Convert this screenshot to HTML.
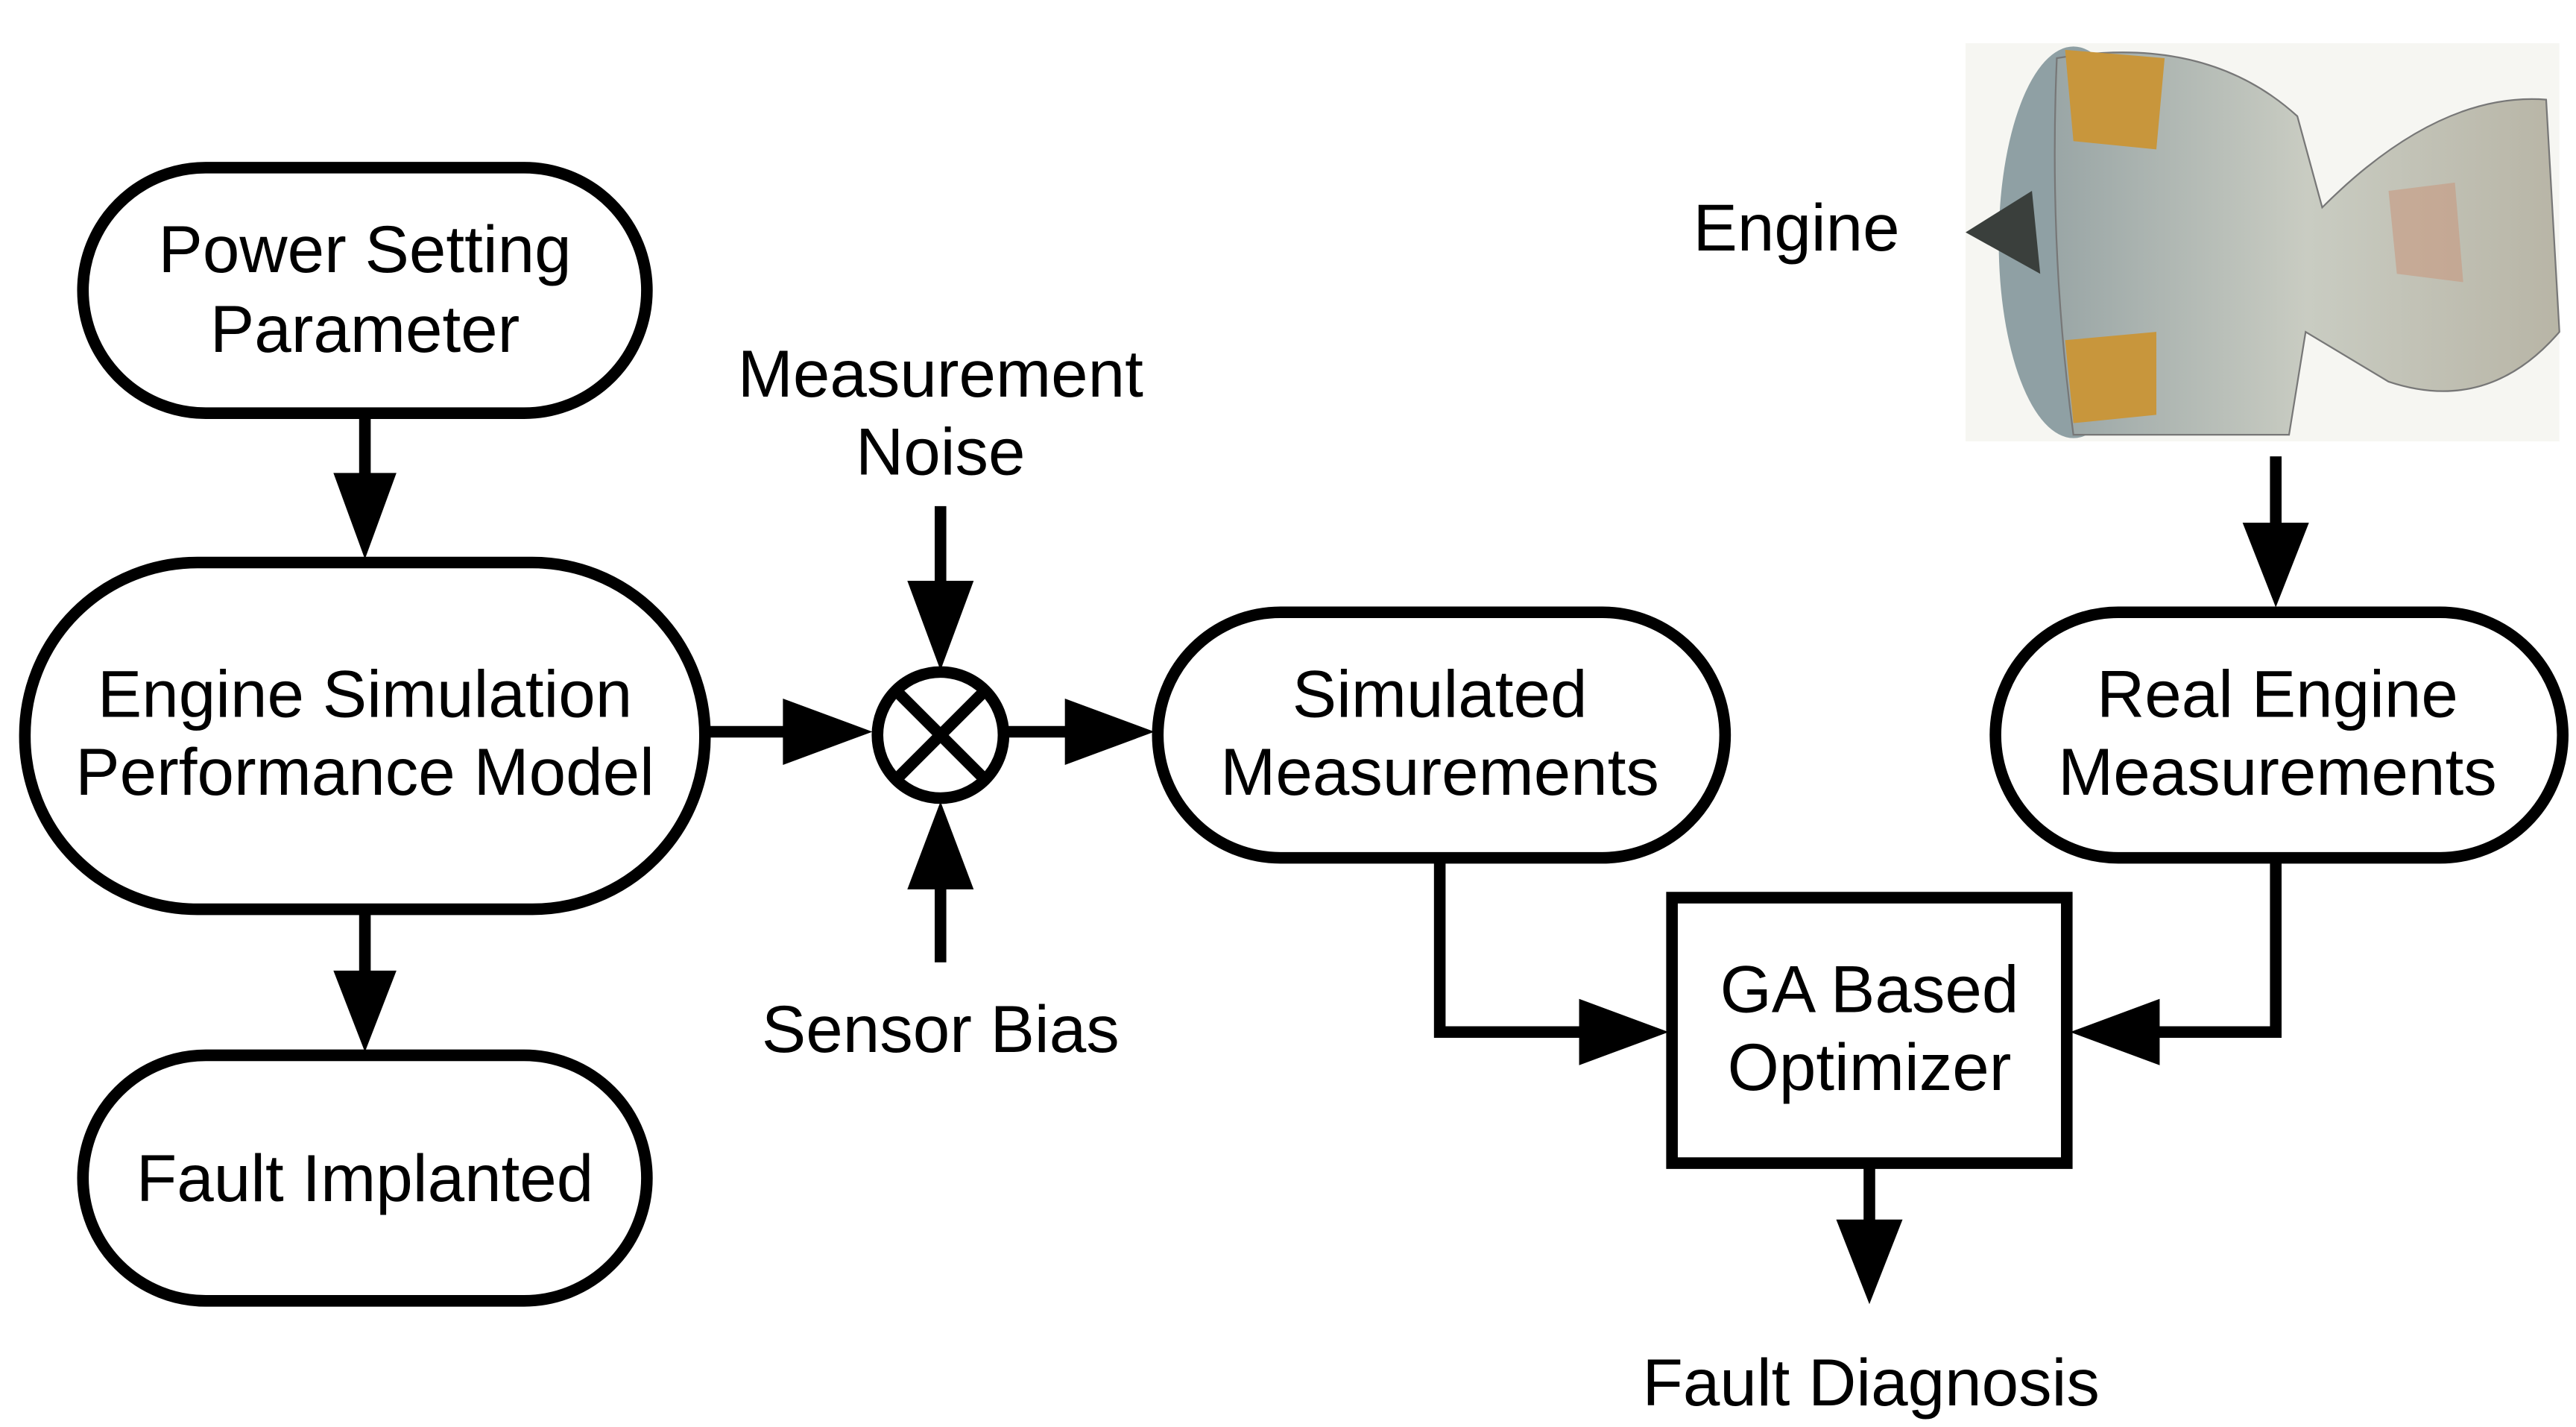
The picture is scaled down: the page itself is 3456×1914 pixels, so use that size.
<!DOCTYPE html>
<html><head><meta charset="utf-8"><style>
html,body{margin:0;padding:0;background:#fff;}
svg{display:block;}
text{font-family:"Liberation Sans",sans-serif;font-size:40px;fill:#000;text-anchor:middle;}
</style></head><body>
<svg width="3456" height="1914" viewBox="0 0 1553 860" xmlns="http://www.w3.org/2000/svg">
<defs>
<linearGradient id="g1" x1="0" y1="0" x2="1" y2="0">
<stop offset="0" stop-color="#9aa6a6"/><stop offset="0.5" stop-color="#c9ccc2"/><stop offset="1" stop-color="#b8b5a6"/></linearGradient>
</defs>
<g fill="#fff" stroke="#000" stroke-width="7">
<rect x="50" y="101" width="340" height="148" rx="74"/>
<rect x="15" y="339" width="410" height="209" rx="104"/>
<rect x="50" y="636" width="340" height="148" rx="74"/>
<rect x="698" y="369" width="342" height="148" rx="74"/>
<rect x="1203" y="369" width="342" height="148" rx="74"/>
<rect x="1008" y="541" width="238" height="160"/>
<circle cx="567" cy="443" r="38"/>
</g>
<g stroke="#000" stroke-width="7" fill="none">
<line x1="540" y1="416" x2="594" y2="470"/><line x1="594" y1="416" x2="540" y2="470"/>
<line x1="220" y1="249" x2="220" y2="290"/>
<line x1="220" y1="548" x2="220" y2="590"/>
<line x1="425" y1="441" x2="480" y2="441"/>
<line x1="567" y1="305" x2="567" y2="355"/>
<line x1="567" y1="580" x2="567" y2="530"/>
<line x1="605" y1="441" x2="650" y2="441"/>
<polyline points="868,517 868,622 960,622"/>
<polyline points="1372,517 1372,622 1295,622"/>
<line x1="1127" y1="701" x2="1127" y2="740"/>
<line x1="1372" y1="275" x2="1372" y2="320"/>
</g>
<g fill="#000">
<polygon points="201,285 239,285 220,337"/>
<polygon points="201,585 239,585 220,634"/>
<polygon points="472,421 472,461 526,441"/>
<polygon points="547,350 587,350 567,404"/>
<polygon points="547,536 587,536 567,483"/>
<polygon points="642,421 642,461 696,441"/>
<polygon points="952,602 952,642 1006,622"/>
<polygon points="1302,602 1302,642 1248,622"/>
<polygon points="1107,735 1147,735 1127,786"/>
<polygon points="1352,315 1392,315 1372,366"/>
</g>
<text x="220" y="164">Power Setting</text>
<text x="220" y="212">Parameter</text>
<text x="220" y="432">Engine Simulation</text>
<text x="220" y="479">Performance Model</text>
<text x="220" y="724">Fault Implanted</text>
<text x="567" y="239">Measurement</text>
<text x="567" y="286">Noise</text>
<text x="567" y="634">Sensor Bias</text>
<text x="868" y="432">Simulated</text>
<text x="868" y="479">Measurements</text>
<text x="1373" y="432">Real Engine</text>
<text x="1373" y="479">Measurements</text>
<text x="1127" y="610">GA Based</text>
<text x="1127" y="657">Optimizer</text>
<text x="1128" y="847">Fault Diagnosis</text>
<text x="1083" y="151">Engine</text>
<rect x="1185" y="26" width="358" height="240" fill="#f6f6f2"/>
<ellipse cx="1250" cy="146" rx="45" ry="118" fill="#8fa0a4"/>
<path d="M1240 35 Q1330 20 1385 70 L1400 125 Q1470 55 1535 60 L1543 200 Q1500 250 1440 230 L1390 200 L1380 262 L1250 262 Q1235 150 1240 35Z" fill="url(#g1)" stroke="#777" stroke-width="1"/>
<path d="M1245 30 L1305 35 L1300 90 L1250 85Z" fill="#c8963c"/>
<path d="M1245 205 L1300 200 L1300 250 L1250 255Z" fill="#c8963c"/>
<path d="M1185 140 L1225 115 L1230 165Z" fill="#3a3f3c"/>
<path d="M1440 115 L1480 110 L1485 170 L1445 165Z" fill="#c89a80" opacity="0.6"/>
</svg>
</body></html>
